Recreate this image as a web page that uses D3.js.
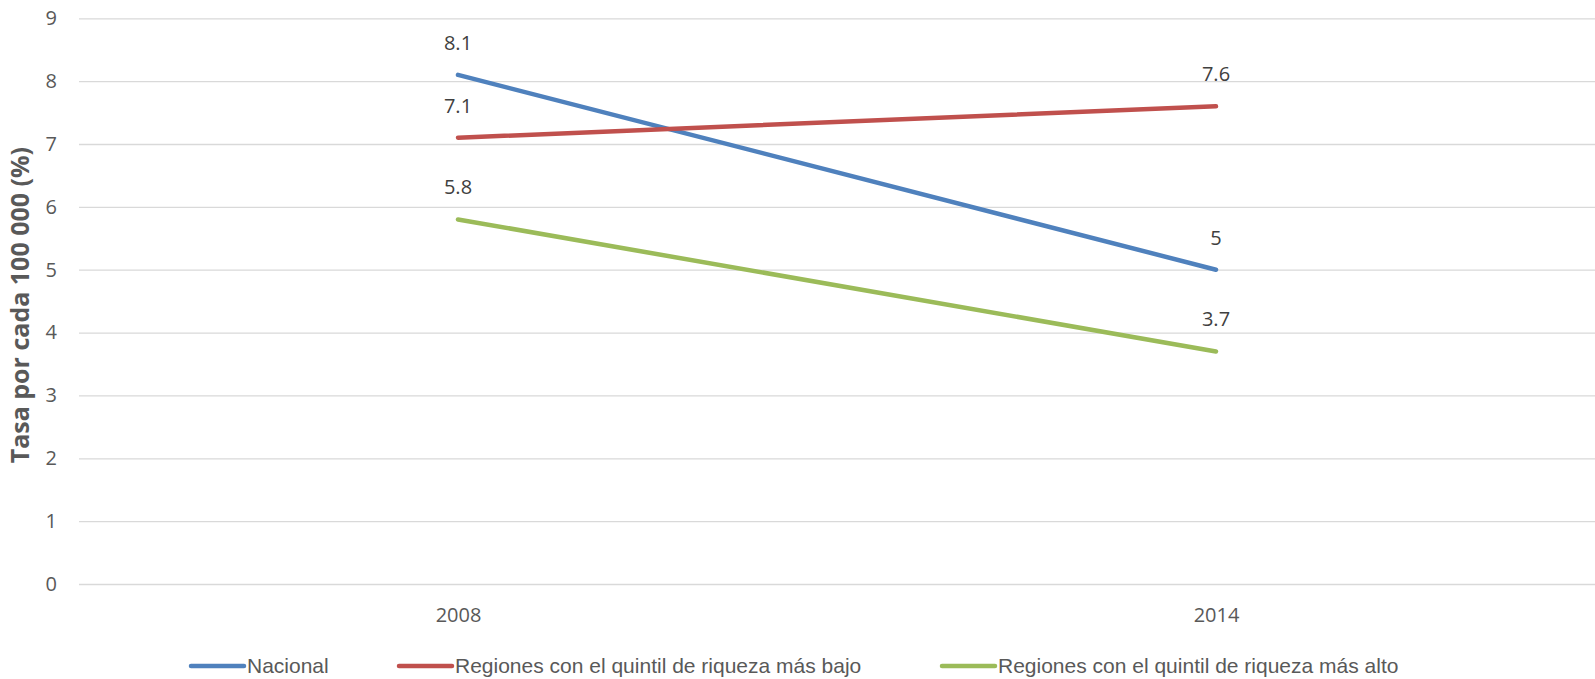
<!DOCTYPE html>
<html><head><meta charset="utf-8">
<script src="https://cdn.jsdelivr.net/npm/d3@7"></script>
<style>body{margin:0;background:#fff}svg{display:block}</style>
</head><body>
<svg id="c" width="1595" height="679"></svg>
<script>
const years = ["2008", "2014"];
const nacional = [8.1, 5];
const quintilBajo = [7.1, 7.6];
const quintilAlto = [5.8, 3.7];
const seriesNames = ["Nacional", "Regiones con el quintil de riqueza más bajo", "Regiones con el quintil de riqueza más alto"];
const seriesColors = ["#4f81bd", "#c0504d", "#9bbb59"];
const yTicks = [0,1,2,3,4,5,6,7,8,9];

const series = [nacional, quintilBajo, quintilAlto].map((v,i)=>({name:seriesNames[i], color:seriesColors[i], values:v}));
const svg = d3.select("#c");
const L = 79, R = 1595, T = 18.3, B = 584;
const x = d3.scalePoint().domain(years).range([L, R]).padding(0.5);
const y = d3.scaleLinear().domain([0, 9]).range([B, T]);

const font = "'Open Sans', sans-serif";
// grid
const yAxis = d3.axisLeft(y).tickValues(yTicks).tickSize(-(R - L)).tickPadding(22).tickFormat(d3.format("d"));
const ga = svg.append("g").attr("transform", `translate(${L},0)`).call(yAxis);
ga.select(".domain").remove();
ga.selectAll(".tick line").attr("stroke", "#d9d9d9").attr("stroke-width", 1.3);
ga.selectAll(".tick text").attr("fill", "#595959").style("font-family", font).style("font-size", "20px");

const xAxis = d3.axisBottom(x).tickSize(0).tickPadding(24);
const gx = svg.append("g").attr("transform", `translate(0,${B})`).call(xAxis);
gx.select(".domain").remove();
gx.selectAll(".tick text").attr("fill", "#595959").style("font-family", font).style("font-size", "20px");

svg.append("text").attr("transform", `translate(29,${(T+B)/2 + 4}) rotate(-90)`)
  .attr("text-anchor", "middle").attr("fill", "#595959")
  .style("font-family", font).style("font-size", "25px").style("font-weight", "bold")
  .text("Tasa por cada 100 000 (%)");

const line = d3.line().x((d,i)=>x(years[i])).y(d=>y(d));
series.forEach(s=>{
  svg.append("path").datum(s.values).attr("d", line).attr("fill","none")
    .attr("stroke", s.color).attr("stroke-width", 4.5).attr("stroke-linecap","round");
});
series.forEach(s=>{
  s.values.forEach((v,i)=>{
    svg.append("text").attr("x", x(years[i])).attr("y", y(v) - 25)
      .attr("text-anchor","middle").attr("fill","#404040")
      .style("font-family", font).style("font-size","20px").text(v);
  });
});

// legend
const legX = [191, 399, 942];
const legY = 666;
series.forEach((s,i)=>{
  svg.append("line").attr("x1", legX[i]).attr("x2", legX[i]+53).attr("y1", legY).attr("y2", legY)
    .attr("stroke", s.color).attr("stroke-width", 4.5).attr("stroke-linecap","round");
  svg.append("text").attr("x", legX[i]+56).attr("y", legY+7).attr("fill","#595959")
    .style("font-family","'Liberation Sans Narrow', 'Arial Narrow', sans-serif").style("font-size","21px")
    .text(s.name);
});
</script>
</body></html>
